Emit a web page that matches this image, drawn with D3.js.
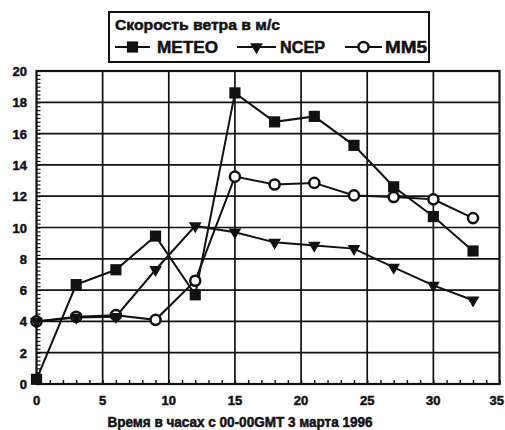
<!DOCTYPE html>
<html>
<head>
<meta charset="utf-8">
<script src="https://cdn.jsdelivr.net/npm/d3@7"></script>
<style>
  html, body { margin: 0; padding: 0; background: #fff; }
  svg text { font-family: "Liberation Sans", Arial, sans-serif; font-weight: bold; fill: #111; stroke: #111; stroke-width: 0.5px; }
</style>
</head>
<body>
<svg id="chart" width="505" height="430"></svg>
<script>
// Hours since 00 GMT, 3 March 1996
const hours = [0, 3, 6, 9, 12, 15, 18, 21, 24, 27, 30, 33];
// Wind speed, m/s
const meteo = [0.3, 6.35, 7.3, 9.45, 5.7, 18.6, 16.75, 17.1, 15.25, 12.6, 10.7, 8.5];
const ncep  = [4.0, 4.25, 4.3, 7.3, 10.1, 9.7, 9.05, 8.85, 8.65, 7.45, 6.3, 5.35];
const mm5   = [4.0, 4.3, 4.4, 4.1, 6.6, 13.25, 12.75, 12.85, 12.05, 11.95, 11.8, 10.6];

const xTicks = [0, 5, 10, 15, 20, 25, 30, 35];
const yTicks = [0, 2, 4, 6, 8, 10, 12, 14, 16, 18, 20];

const legendTitle = "Скорость ветра в м/с";
const xTitle = "Время в часах с 00-00GMT 3 марта 1996";

const svg = d3.select("#chart");
const ink = "#111";

const x = d3.scaleLinear().domain([0, 35]).range([36.5, 499.5]);
const y = d3.scaleLinear().domain([0, 20]).range([384, 71]);

// grid lines
const grid = svg.append("g").attr("stroke", ink).attr("stroke-width", 1.7);
grid.selectAll("line.h").data(yTicks.filter(v => v > 0 && v < 20)).join("line")
  .attr("x1", x(0)).attr("x2", x(35)).attr("y1", d => y(d)).attr("y2", d => y(d));
grid.selectAll("line.v").data(xTicks.filter(v => v > 0 && v < 35)).join("line")
  .attr("y1", y(0)).attr("y2", y(20)).attr("x1", d => x(d)).attr("x2", d => x(d));

// inward minor ticks
const xAxis = d3.axisBottom(x).tickValues(d3.range(0, 35.01, 1)).tickSize(-4).tickFormat("");
svg.append("g").attr("transform", `translate(0,${y(0)})`).call(xAxis)
  .call(g => g.select(".domain").remove())
  .call(g => g.selectAll("line").attr("stroke", ink).attr("stroke-width", 1.4));
const yAxis = d3.axisLeft(y).tickValues(d3.range(0, 20.01, 0.25)).tickSize(-4).tickFormat("");
svg.append("g").attr("transform", `translate(${x(0)},0)`).call(yAxis)
  .call(g => g.select(".domain").remove())
  .call(g => g.selectAll("line").attr("stroke", ink).attr("stroke-width", 1.2));

// tick labels
svg.append("g").selectAll("text").data(xTicks).join("text")
  .attr("x", d => d === 35 ? 504 : x(d)).attr("y", 405)
  .attr("text-anchor", d => d === 35 ? "end" : "middle")
  .attr("font-size", 13).text(d => d);
svg.append("g").selectAll("text").data(yTicks).join("text")
  .attr("x", 27).attr("y", d => y(d) + 5).attr("text-anchor", "end")
  .attr("font-size", 13).text(d => d);

// frame
svg.append("rect").attr("x", x(0)).attr("y", y(20))
  .attr("width", x(35) - x(0)).attr("height", y(0) - y(20))
  .attr("fill", "none").attr("stroke", ink).attr("stroke-width", 2.2);

// axis title
svg.append("text").attr("x", 240).attr("y", 427).attr("text-anchor", "middle")
  .attr("font-size", 14).attr("textLength", 265).attr("lengthAdjust", "spacingAndGlyphs")
  .text(xTitle);

const line = d3.line().x((d, i) => x(hours[i])).y(d => y(d));
const sym = {
  METEO: d3.symbol().type(d3.symbolSquare).size(125),
  NCEP: d3.symbol().type(d3.symbolTriangle).size(70),
  MM5: d3.symbol().type(d3.symbolCircle).size(80)
};

function drawMarker(sel, name) {
  const p = sel.append("path").attr("d", sym[name]());
  if (name === "MM5") p.attr("fill", "#fff").attr("stroke", ink).attr("stroke-width", 2.5);
  else p.attr("fill", ink);
  if (name === "NCEP") p.attr("transform", "rotate(180)");
  return p;
}

const seriesData = [["MM5", mm5], ["NCEP", ncep], ["METEO", meteo]];
seriesData.forEach(([name, vals]) => {
  svg.append("path").datum(vals).attr("d", line)
    .attr("fill", "none").attr("stroke", ink).attr("stroke-width", 2);
});
seriesData.forEach(([name, vals]) => {
  vals.forEach((v, i) => {
    const g = svg.append("g").attr("transform", `translate(${x(hours[i])},${y(v)})`);
    drawMarker(g, name);
  });
});

// legend
const lg = svg.append("g");
lg.append("rect").attr("x", 109).attr("y", 12).attr("width", 320).attr("height", 50)
  .attr("fill", "#fff").attr("stroke", ink).attr("stroke-width", 2);
lg.append("text").attr("x", 115).attr("y", 30).attr("font-size", 15)
  .attr("textLength", 165).attr("lengthAdjust", "spacingAndGlyphs").text(legendTitle);
const items = [
  { name: "METEO", x0: 115, x1: 150, tx: 157, tw: 61 },
  { name: "NCEP", x0: 237, x1: 276, tx: 280, tw: 45 },
  { name: "MM5", x0: 345, x1: 382, tx: 385, tw: 42 }
];
items.forEach(it => {
  lg.append("line").attr("x1", it.x0).attr("x2", it.x1).attr("y1", 47).attr("y2", 47)
    .attr("stroke", ink).attr("stroke-width", 2);
  const g = lg.append("g").attr("transform", `translate(${(it.x0 + it.x1) / 2},47)`);
  drawMarker(g, it.name);
  lg.append("text").attr("x", it.tx).attr("y", 53).attr("font-size", 16)
    .attr("textLength", it.tw).attr("lengthAdjust", "spacingAndGlyphs").text(it.name);
});
</script>
</body>
</html>
